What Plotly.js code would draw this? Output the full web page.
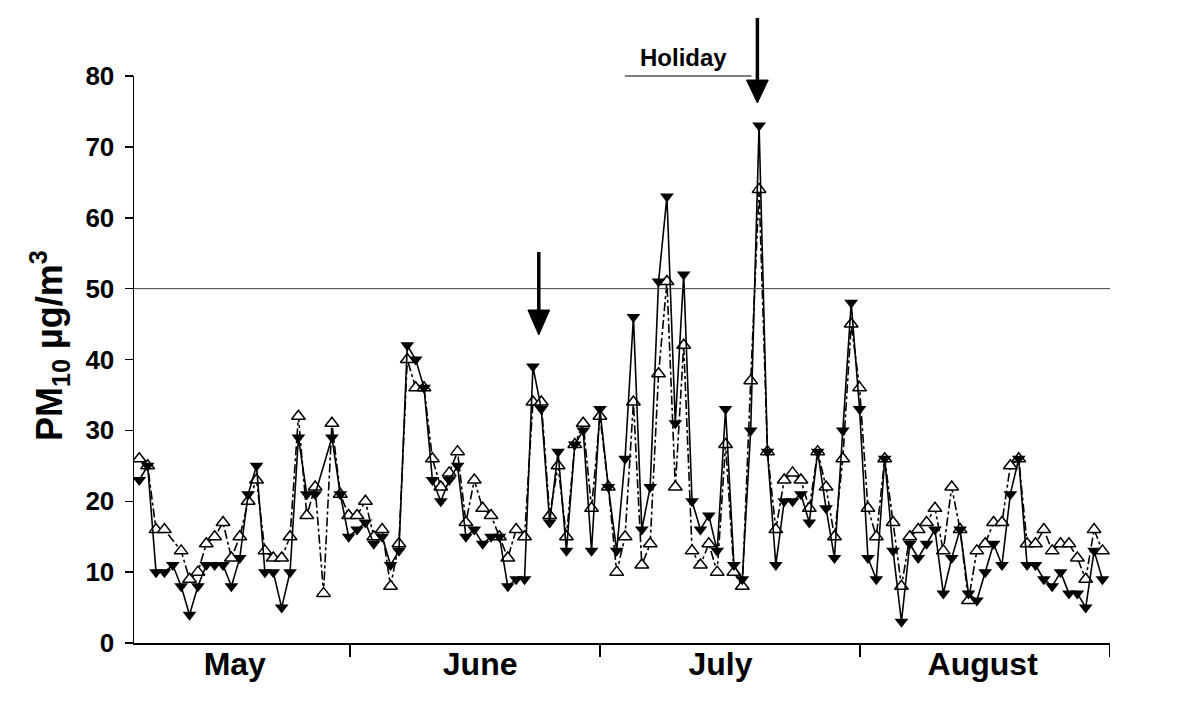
<!DOCTYPE html>
<html>
<head>
<meta charset="utf-8">
<script src="https://cdn.plot.ly/plotly-3.0.1.min.js"></script>
<style>html,body{margin:0;padding:0;background:#fff;}#chart{width:1200px;height:709px;}</style>
</head>
<body>
<div id="chart"></div>
<script>
// Daily PM10 values (µg/m3), consecutive days from early May to end of August
const pmFilled = [23,25,10,10,11,8,4,8,11,11,11,8,12,21,25,10,10,5,10,29,
  21,21,null,29,21,15,16,17,14,15,11,13,42,40,36,23,20,23,25,15,
  16,14,15,15,8,9,9,39,33,17,27,13,28,30,13,33,22,13,26,46,
  16,22,51,63,31,52,20,16,18,13,33,11,9,30,73,27,11,20,20,21,
  17,27,19,12,30,48,33,12,9,26,13,3,14,12,14,16,7,12,16,7,
  6,10,14,11,21,26,11,11,9,8,10,7,7,5,13,9];
const pmOpen = [26,25,16,16,null,13,9,10,14,15,17,12,15,20,23,13,12,12,15,32,
  18,22,7,31,21,18,18,20,15,16,8,14,40,36,36,26,22,24,27,17,
  23,19,18,15,12,16,15,34,34,18,25,15,28,31,19,32,22,10,15,34,
  11,14,38,51,22,42,13,11,14,10,28,10,8,37,64,27,16,23,24,23,
  19,27,22,15,26,45,36,19,15,26,17,8,15,16,17,19,13,22,16,6,
  13,14,17,17,25,26,14,14,16,13,14,14,12,9,16,13];
const day = pmFilled.map((_, i) => i);
const monthLabels = ['May', 'June', 'July', 'August'];
const monthLabelPos = [11.4, 40.7, 69.4, 100.7];
const monthBounds = [25.15, 55.0, 86.03, 115.85];
const yTicks = [0, 10, 20, 30, 40, 50, 60, 70, 80];
const limitValue = 50;
const yTitle = 'PM<sub>10</sub> µg/m<sup>3</sup>';
const holidayText = 'Holiday';
const holidaySpan = [57.97, 73.1];
const arrowDays = [47.7, 73.8];

const boldFont = {family: 'Liberation Sans, Arial, sans-serif', color: '#000', weight: 'bold'};

const traces = [
  {
    x: day, y: pmOpen, type: 'scatter', mode: 'lines+markers', connectgaps: true,
    line: {color: '#000', width: 1.6, dash: 'dashdot'},
    marker: {symbol: 'triangle-up', size: 12, color: '#fff', line: {color: '#000', width: 1.5}},
    name: 'open', showlegend: false
  },
  {
    x: day, y: pmFilled, type: 'scatter', mode: 'lines+markers', connectgaps: true,
    line: {color: '#000', width: 1.6},
    marker: {symbol: 'triangle-down', size: 12, color: '#000'},
    name: 'filled', showlegend: false
  }
];

function arrowShapes(xc, yTail, yBase, yTip) {
  const hw = 1.3;
  return [
    {type: 'line', xref: 'x', yref: 'paper', x0: xc, x1: xc, y0: yTail, y1: yBase - 0.005,
     line: {color: '#000', width: 3.5}},
    {type: 'path', xref: 'x', yref: 'paper',
     path: 'M ' + (xc - hw) + ' ' + yBase + ' L ' + (xc + hw) + ' ' + yBase + ' L ' + xc + ' ' + yTip + ' Z',
     fillcolor: '#000', line: {color: '#000', width: 1}}
  ];
}

const layout = {
  width: 1200, height: 709,
  margin: {l: 134, r: 90, t: 76, b: 66},
  paper_bgcolor: '#fff', plot_bgcolor: '#fff',
  showlegend: false,
  xaxis: {
    range: [-0.63, 115.9],
    showgrid: false, zeroline: false,
    showline: true, linecolor: '#000', linewidth: 1.5,
    tickmode: 'array', tickvals: monthLabelPos, ticktext: monthLabels,
    ticks: '', ticklabelstandoff: -8,
    tickfont: Object.assign({size: 32}, boldFont),
    minor: {tickmode: 'array', tickvals: monthBounds, ticks: 'outside', ticklen: 12, tickwidth: 1.5, tickcolor: '#000', showgrid: false}
  },
  yaxis: {
    range: [0, 80],
    showgrid: false, zeroline: false,
    showline: true, linecolor: '#000', linewidth: 1.5,
    tickmode: 'array', tickvals: yTicks,
    ticks: 'outside', ticklen: 8, tickwidth: 1.5, tickcolor: '#000',
    ticklabelstandoff: 5,
    tickfont: Object.assign({size: 26}, boldFont)
  },
  shapes: [
    {type: 'line', xref: 'paper', yref: 'y', x0: 0, x1: 1, y0: limitValue, y1: limitValue,
     line: {color: '#444', width: 1}},
    {type: 'line', xref: 'x', yref: 'paper', x0: holidaySpan[0], x1: holidaySpan[1], y0: 1.0, y1: 1.0,
     line: {color: '#000', width: 1.2}}
  ].concat(arrowShapes(arrowDays[0], 0.6896, 0.5873, 0.5432))
   .concat(arrowShapes(arrowDays[1], 1.1023, 0.9929, 0.9524)),
  annotations: [
    {x: 65.0, y: 1.0335, xref: 'x', yref: 'paper', text: holidayText, showarrow: false,
     xanchor: 'center', yanchor: 'middle', font: Object.assign({size: 24}, boldFont)},
    {x: -0.0861, y: 0.5256, xref: 'paper', yref: 'paper', text: yTitle, showarrow: false,
     textangle: -90, xanchor: 'center', yanchor: 'middle', font: Object.assign({size: 36}, boldFont)}
  ]
};

Plotly.newPlot('chart', traces, layout, {displayModeBar: false, staticPlot: true});
</script>
</body>
</html>
